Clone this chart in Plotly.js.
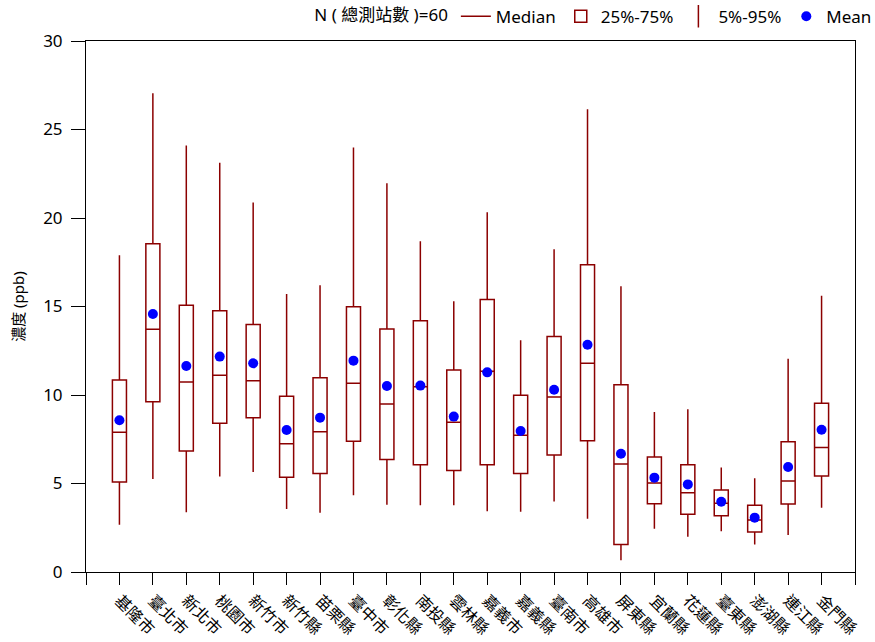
<!DOCTYPE html>
<html>
<head>
<meta charset="utf-8">
<script src="https://cdn.plot.ly/plotly-3.0.1.min.js"></script>
<style>html,body{margin:0;padding:0;background:#fff;}#chart{width:875px;height:642px;}</style>
</head>
<body>
<div id="chart"></div>
<script>
const categories = ["基隆市","臺北市","新北市","桃園市","新竹市","新竹縣","苗栗縣","臺中市","彰化縣","南投縣","雲林縣","嘉義市","嘉義縣","臺南市","高雄市","屏東縣","宜蘭縣","花蓮縣","臺東縣","澎湖縣","連江縣","金門縣"];
const p5     = [2.67, 5.25, 3.37, 5.40, 5.65, 3.56, 3.35, 4.33, 3.80, 3.77, 3.77, 3.43, 3.41, 3.99, 3.01, 0.66, 2.45, 1.99, 2.30, 1.56, 2.09, 3.63];
const q1     = [5.08, 9.62, 6.84, 8.40, 8.72, 5.35, 5.57, 7.38, 6.35, 6.06, 5.74, 6.06, 5.57, 6.61, 7.42, 1.56, 3.86, 3.26, 3.18, 2.26, 3.84, 5.42];
const median = [7.90, 13.71, 10.73, 11.11, 10.81, 7.25, 7.93, 10.66, 9.49, 10.47, 8.46, 11.34, 7.72, 9.89, 11.79, 6.10, 5.03, 4.48, 3.88, 2.94, 5.14, 7.04];
const q3     = [10.85, 18.55, 15.07, 14.76, 13.99, 9.93, 10.98, 14.99, 13.73, 14.20, 11.41, 15.40, 9.98, 13.30, 17.36, 10.58, 6.50, 6.06, 4.63, 3.77, 7.36, 9.53];
const p95    = [17.9, 27.05, 24.1, 23.12, 20.87, 15.7, 16.2, 23.99, 21.96, 18.68, 15.29, 20.32, 13.1, 18.23, 26.14, 16.14, 9.04, 9.19, 5.91, 5.29, 12.05, 15.61];
const mean   = [8.57, 14.58, 11.64, 12.17, 11.79, 8.02, 8.72, 11.94, 10.51, 10.53, 8.78, 11.28, 7.97, 10.30, 12.84, 6.68, 5.33, 4.95, 3.97, 3.07, 5.93, 8.04];
const nStations = 60;
const yTicks = [0, 5, 10, 15, 20, 25, 30];

const pos = categories.map((c, i) => i + 1);
const tickvals = [0].concat(pos, [categories.length + 1]);
const ticktext = [""].concat(categories, [""]);

const RED = "#8B0000";
const FONT = "Noto Sans, Noto Sans CJK TC, sans-serif";

const data = [
  { type: "scatter", mode: "lines", x: [null], y: [null], name: "Median",
    line: { color: RED, width: 1.5 }, hoverinfo: "skip" },
  { type: "box", name: "25%-75%", x: pos, q1: q1, median: median, q3: q3,
    lowerfence: p5, upperfence: p95, width: 0.42, whiskerwidth: 0,
    line: { color: RED, width: 1.5 }, fillcolor: "rgba(255,255,255,0)",
    boxpoints: false, hoverinfo: "skip" },
  { type: "scatter", mode: "markers", x: [null], y: [null], name: "5%-95%",
    marker: { symbol: "line-ns", size: 18, line: { color: RED, width: 1.5 }, color: RED }, hoverinfo: "skip" },
  { type: "scatter", mode: "markers", x: pos, y: mean, name: "Mean",
    marker: { color: "#0000FF", size: 10 }, hoverinfo: "skip" }
];

const layout = {
  width: 875, height: 642,
  margin: { l: 86, r: 20, t: 41, b: 70, autoexpand: false },
  paper_bgcolor: "#fff", plot_bgcolor: "#fff",
  font: { family: FONT, size: 16, color: "#000" },
  showlegend: true,
  legend: {
    orientation: "h", x: 1.029, xanchor: "right", y: 1.012, yanchor: "bottom",
    traceorder: "normal", font: { size: 17 },
    title: { text: "N ( 總測站數 )=" + nStations, side: "left", font: { size: 17 } },
    itemwidth: 30, bgcolor: "rgba(0,0,0,0)"
  },
  xaxis: {
    range: [0, categories.length + 1], tickmode: "array", tickvals: tickvals, ticktext: ticktext,
    tickangle: 45, ticks: "outside", ticklen: 12, tickcolor: "#000",
    showline: true, linecolor: "#000", linewidth: 1, mirror: true,
    showgrid: false, zeroline: false, tickfont: { size: 16 }
  },
  yaxis: {
    range: [0, 30], tickmode: "array", tickvals: yTicks, ticks: "outside", ticklen: 14, tickcolor: "#000",
    ticklabelstandoff: 5,
    showline: true, linecolor: "#000", linewidth: 1, mirror: true,
    showgrid: false, zeroline: false, tickfont: { size: 17 },
    title: { text: "濃度 (ppb)", font: { size: 15 }, standoff: 14 }
  }
};

Plotly.newPlot("chart", data, layout, { staticPlot: true, displayModeBar: false });
</script>
</body>
</html>
